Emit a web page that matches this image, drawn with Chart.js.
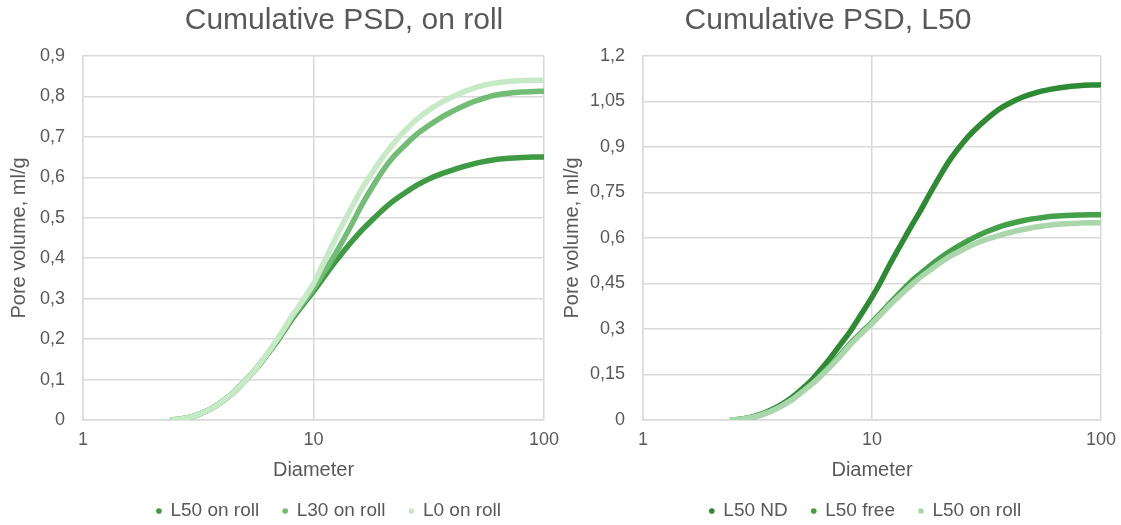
<!DOCTYPE html>
<html>
<head>
<meta charset="utf-8">
<script src="https://cdn.jsdelivr.net/npm/chart.js@4.4.1/dist/chart.umd.min.js"></script>
<style>
  html, body { margin: 0; padding: 0; background: #ffffff; }
  #wrapL { position: absolute; left: 0; top: 0; width: 560px; height: 525px; }
  #wrapR { position: absolute; left: 560px; top: 0; width: 561px; height: 525px; }
</style>
</head>
<body>
<div id="wrapL"><canvas id="left" width="560" height="525"></canvas></div>
<div id="wrapR"><canvas id="right" width="561" height="525"></canvas></div>
<script>
// ---- data ----
const diameter = [2.4, 2.6, 2.8, 3, 3.3, 3.6, 4, 4.5, 5, 5.5, 6, 6.5, 7, 7.5, 8, 9, 10, 11, 12, 13, 14, 15, 16, 18, 20, 22, 25, 28, 32, 36, 40, 45, 50, 55, 60, 70, 80, 90, 100];

const l50OnRoll = [0, 0.002, 0.005, 0.009, 0.018, 0.028, 0.045, 0.068, 0.095, 0.12, 0.146, 0.172, 0.197, 0.222, 0.246, 0.285, 0.318, 0.35, 0.38, 0.405, 0.428, 0.448, 0.466, 0.495, 0.52, 0.54, 0.562, 0.58, 0.597, 0.609, 0.618, 0.627, 0.634, 0.639, 0.643, 0.647, 0.649, 0.65, 0.65];
const l30OnRoll = [0, 0.002, 0.005, 0.009, 0.018, 0.028, 0.045, 0.068, 0.095, 0.12, 0.147, 0.173, 0.199, 0.225, 0.25, 0.29, 0.325, 0.362, 0.396, 0.43, 0.463, 0.495, 0.526, 0.576, 0.617, 0.648, 0.68, 0.706, 0.73, 0.749, 0.763, 0.777, 0.788, 0.796, 0.802, 0.808, 0.811, 0.812, 0.813];
const l0OnRoll = [0, 0.002, 0.005, 0.009, 0.018, 0.028, 0.045, 0.068, 0.095, 0.12, 0.148, 0.175, 0.202, 0.228, 0.254, 0.296, 0.337, 0.385, 0.43, 0.47, 0.505, 0.537, 0.566, 0.612, 0.65, 0.68, 0.716, 0.743, 0.768, 0.786, 0.799, 0.812, 0.821, 0.828, 0.832, 0.837, 0.839, 0.84, 0.84];
const l50ND = [0, 0.002, 0.005, 0.01, 0.02, 0.032, 0.05, 0.076, 0.105, 0.135, 0.168, 0.2, 0.232, 0.262, 0.29, 0.35, 0.405, 0.46, 0.515, 0.562, 0.605, 0.645, 0.68, 0.75, 0.81, 0.86, 0.915, 0.955, 0.995, 1.025, 1.045, 1.063, 1.075, 1.084, 1.09, 1.098, 1.102, 1.104, 1.105];
const l50Free = [0, 0.002, 0.005, 0.009, 0.018, 0.029, 0.046, 0.07, 0.097, 0.123, 0.15, 0.176, 0.201, 0.226, 0.25, 0.289, 0.322, 0.355, 0.386, 0.413, 0.438, 0.46, 0.478, 0.51, 0.536, 0.557, 0.582, 0.602, 0.622, 0.637, 0.647, 0.656, 0.663, 0.667, 0.671, 0.674, 0.676, 0.677, 0.677];

const xTicks = [1, 10, 100];
const leftYMax = 0.9, leftYStep = 0.1;
const rightYMax = 1.2, rightYStep = 0.15;

const leftTitle = 'Cumulative PSD, on roll';
const rightTitle = 'Cumulative PSD, L50';
const leftNames = ['L50 on roll', 'L30 on roll', 'L0 on roll'];
const rightNames = ['L50 ND', 'L50 free', 'L50 on roll'];
const xTitle = 'Diameter';
const yTitle = 'Pore volume, ml/g';

// ---- styling ----
const FONT = '"Liberation Sans", Arial, sans-serif';
const TXT = '#595959';
const GRID = '#d9d9d9';

function pts(ys) { return diameter.map((d, i) => ({ x: d, y: ys[i] })); }

function ds(label, ys, color, order) {
  return {
    label, data: pts(ys), showLine: true, borderColor: color, backgroundColor: color,
    borderWidth: 5.5, pointRadius: 0, pointHoverRadius: 0, cubicInterpolationMode: 'monotone',
    pointStyle: 'circle', order
  };
}

const decorPlugin = {
  id: 'psdDecor',
  afterLayout(chart, args, opts) {
    const lg = chart.legend;
    if (lg) { lg.left += opts.legendDx; lg.right += opts.legendDx; lg.top += opts.legendDy; lg.bottom += opts.legendDy; }
  },
  afterDraw(chart, args, opts) {
    const ctx = chart.ctx;
    ctx.save();
    ctx.font = opts.size + 'px ' + FONT;
    ctx.fillStyle = TXT;
    ctx.textAlign = 'center';
    ctx.textBaseline = 'middle';
    ctx.fillText(opts.text, opts.x, opts.y);
    ctx.restore();
  }
};

function fmt(v) { return Number(v.toFixed(2)).toString().replace('.', ','); }

function makeChart(id, datasets, yMax, yStep, title, titleX, padRight, yTitlePad, legendDx) {
  return new Chart(document.getElementById(id), {
    type: 'scatter',
    data: { datasets },
    plugins: [decorPlugin],
    options: {
      responsive: false, animation: false, devicePixelRatio: 1,
      layout: { padding: { left: 0, right: padRight, top: 56, bottom: 0 } },
      scales: {
        x: {
          type: 'logarithmic', min: 1, max: 100,
          afterBuildTicks: (s) => { s.ticks = xTicks.map(v => ({ value: v })); },
          afterFit: (s) => { s.paddingLeft = 0; s.paddingRight = 0; s.height = 62; },
          ticks: { callback: (v) => String(v), font: { family: FONT, size: 18 }, color: TXT, padding: 9, maxRotation: 0, autoSkip: false },
          grid: { color: GRID, lineWidth: 1.5, drawTicks: false },
          border: { color: GRID, width: 1.5 },
          title: { display: true, text: xTitle, font: { family: FONT, size: 20 }, color: TXT, padding: { top: 0, bottom: 0 } }
        },
        y: {
          min: 0, max: yMax,
          afterFit: (s) => { s.width = 83; },
          ticks: { stepSize: yStep, callback: (v) => fmt(v), font: { family: FONT, size: 18 }, color: TXT, padding: 18 },
          grid: { color: GRID, lineWidth: 1.5, drawTicks: false },
          border: { color: GRID, width: 1.5 },
          title: { display: true, text: yTitle, font: { family: FONT, size: 20 }, color: TXT, padding: yTitlePad }
        }
      },
      plugins: {
        psdDecor: { text: title, x: titleX, y: 21, size: 30, legendDx, legendDy: -4.5 },
        title: { display: false },
        tooltip: { enabled: false },
        legend: {
          position: 'bottom',
          maxHeight: 43,
          labels: {
            usePointStyle: true, pointStyle: 'circle', boxWidth: 4, boxHeight: 4,
            font: { family: FONT, size: 19 }, color: TXT, padding: 24,
            sort: (a, b) => a.datasetIndex - b.datasetIndex,
            generateLabels: (chart) => {
              const items = Chart.defaults.plugins.legend.labels.generateLabels(chart);
              items.forEach(it => { it.lineWidth = 0; it.strokeStyle = 'rgba(0,0,0,0)'; });
              return items;
            }
          }
        }
      }
    }
  });
}

makeChart('left', [
  ds(leftNames[0], l50OnRoll, '#3f9b43', 3),
  ds(leftNames[1], l30OnRoll, '#72bd75', 2),
  ds(leftNames[2], l0OnRoll, '#c6e9c6', 1)
], leftYMax, leftYStep, leftTitle, 344, 16, { top: 7, bottom: 0 }, 57);

makeChart('right', [
  ds(rightNames[0], l50ND, '#2f8a34', 3),
  ds(rightNames[1], l50Free, '#45a04a', 2),
  ds(rightNames[2], l50OnRoll, '#a9d6aa', 1)
], rightYMax, rightYStep, rightTitle, 268, 20, { top: 0, bottom: 0 }, 35);
</script>
</body>
</html>
